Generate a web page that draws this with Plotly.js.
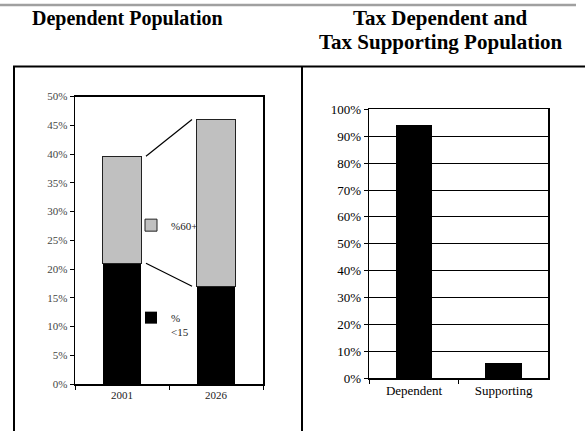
<!DOCTYPE html>
<html>
<head>
<meta charset="utf-8">
<script src="https://cdn.plot.ly/plotly-3.0.1.min.js"></script>
<style>
  html, body { margin: 0; padding: 0; background: #fff; }
  #chart { width: 585px; height: 431px; }
</style>
</head>
<body>
<div id="chart"></div>
<script>
// Dependent population shares by year (percent of total population)
const years = ['2001', '2026'];
const under15 = [21, 17];
const over60 = [18.6, 29];

// Tax dependent vs tax supporting population (percent)
const taxGroups = ['Dependent', 'Supporting'];
const taxShares = [94.2, 5.8];

const leftTicks = [0, 5, 10, 15, 20, 25, 30, 35, 40, 45, 50];
const rightTicks = [0, 10, 20, 30, 40, 50, 60, 70, 80, 90, 100];
const pct = v => v + '%';

const W = 585, H = 431;
const px = v => v / W;          // pixel -> paper x
const py = v => 1 - v / H;      // pixel -> paper y

const serif = "'Liberation Serif', 'Times New Roman', serif";
const barFrac = 0.41;

// Series lines joining the stacked segments of neighbouring bars
const totals = under15.map((v, i) => v + over60[i]);
const gap = 0.05;
const seriesX = [barFrac / 2 + gap, 1 - barFrac / 2 - gap];

const traces = [
  {
    type: 'bar', name: '%<br>&lt;15', x: years, y: under15,
    xaxis: 'x', yaxis: 'y', legend: 'legend2',
    marker: { color: '#000000', line: { width: 0 } },
    hoverinfo: 'none'
  },
  {
    type: 'bar', name: '%60+', x: years, y: over60,
    xaxis: 'x', yaxis: 'y', legend: 'legend',
    marker: { color: '#c0c0c0', line: { color: '#222', width: 1 } },
    hoverinfo: 'none'
  },
  {
    type: 'scatter', mode: 'lines', x: seriesX, y: [under15[0], under15[1]],
    xaxis: 'x3', yaxis: 'y', showlegend: false,
    line: { color: '#000', width: 1.2 }, hoverinfo: 'none'
  },
  {
    type: 'scatter', mode: 'lines', x: seriesX, y: [totals[0], totals[1]],
    xaxis: 'x3', yaxis: 'y', showlegend: false,
    line: { color: '#000', width: 1.2 }, hoverinfo: 'none'
  },
  {
    type: 'bar', x: taxGroups, y: taxShares,
    xaxis: 'x2', yaxis: 'y2', showlegend: false,
    marker: { color: '#000000', line: { width: 0 } },
    hoverinfo: 'none'
  }
];

const axisCommon = {
  showline: true, mirror: true, linecolor: '#000', linewidth: 1.5,
  ticks: 'outside', ticklen: 4, tickcolor: '#000', tickwidth: 1,
  zeroline: false, fixedrange: true
};

const legendCommon = {
  xanchor: 'left', yanchor: 'middle', valign: 'top',
  bgcolor: 'rgba(0,0,0,0)', borderwidth: 0, itemwidth: 30,
  font: { size: 11, family: serif, color: '#222' },
  itemclick: false, itemdoubleclick: false
};

const layout = {
  width: W, height: H,
  margin: { l: 0, r: 0, t: 0, b: 0 },
  paper_bgcolor: '#fff', plot_bgcolor: '#fff',
  barmode: 'stack', bargap: 1 - barFrac,
  font: { family: serif, color: '#000', size: 11 },
  xaxis: Object.assign({}, axisCommon, {
    domain: [px(75), px(263)], anchor: 'y',
    type: 'category', range: [-0.5, 1.5], tickson: 'boundaries',
    showgrid: false, tickfont: { size: 11, family: serif, color: '#222' }
  }),
  xaxis3: {
    domain: [px(75), px(263)], anchor: 'y', overlaying: 'x',
    type: 'linear', range: [-0.5, 1.5], visible: false, fixedrange: true
  },
  yaxis: Object.assign({}, axisCommon, {
    domain: [py(384), py(96.5)], anchor: 'x',
    range: [0, 50], tickmode: 'array', tickvals: leftTicks, ticktext: leftTicks.map(pct),
    showgrid: false, tickfont: { size: 11, family: serif, color: '#444' }
  }),
  xaxis2: Object.assign({}, axisCommon, {
    domain: [px(369.3), px(548.3)], anchor: 'y2',
    type: 'category', range: [-0.5, 1.5], tickson: 'boundaries',
    showgrid: false, tickfont: { size: 13, family: serif, color: '#000' }
  }),
  yaxis2: Object.assign({}, axisCommon, {
    domain: [py(378.3), py(109.3)], anchor: 'x2',
    range: [0, 100], tickmode: 'array', tickvals: rightTicks, ticktext: rightTicks.map(pct),
    showgrid: true, gridcolor: '#000', gridwidth: 1,
    tickfont: { size: 13, family: serif, color: '#000' }
  }),
  legend: Object.assign({}, legendCommon, { x: px(131), y: py(226) }),
  legend2: Object.assign({}, legendCommon, { x: px(131), y: py(325) }),
  annotations: [
    {
      text: '<b>Dependent Population</b>', xref: 'paper', yref: 'paper',
      x: px(127), y: py(18), xanchor: 'center', yanchor: 'middle',
      showarrow: false, font: { size: 20, family: serif, color: '#000' }
    },
    {
      text: '<b>Tax Dependent and</b>', xref: 'paper', yref: 'paper',
      x: px(440), y: py(18), xanchor: 'center', yanchor: 'middle',
      showarrow: false, font: { size: 21, family: serif, color: '#000' }
    },
    {
      text: '<b>Tax Supporting Population</b>', xref: 'paper', yref: 'paper',
      x: px(440), y: py(42), xanchor: 'center', yanchor: 'middle',
      showarrow: false, font: { size: 21, family: serif, color: '#000' }
    }
  ],
  shapes: [
    // rule across the top of the page
    { type: 'line', xref: 'paper', yref: 'paper', x0: 0, x1: px(576), y0: py(5), y1: py(5),
      line: { color: '#a0a0a0', width: 2.5 } },
    // table frame
    { type: 'line', xref: 'paper', yref: 'paper', x0: px(13), x1: 1, y0: py(66.5), y1: py(66.5),
      line: { color: '#000', width: 2 } },
    { type: 'line', xref: 'paper', yref: 'paper', x0: px(14), x1: px(14), y0: py(66.5), y1: 0,
      line: { color: '#000', width: 2 } },
    { type: 'line', xref: 'paper', yref: 'paper', x0: px(302), x1: px(302), y0: py(66.5), y1: 0,
      line: { color: '#000', width: 2 } }
  ],
  showlegend: true
};

Plotly.newPlot('chart', traces, layout, { displayModeBar: false, staticPlot: true });
</script>
</body>
</html>
